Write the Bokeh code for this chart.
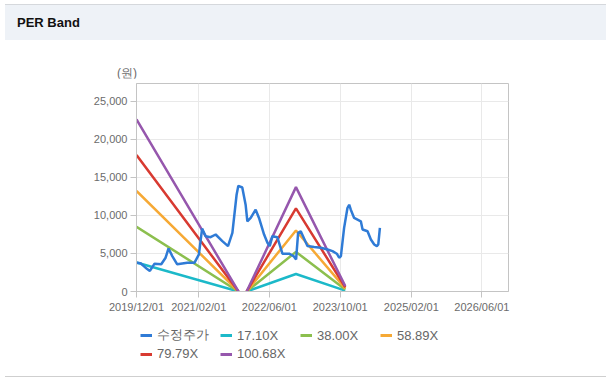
import numpy as np
import pandas as pd
from bokeh.plotting import figure
from bokeh.models import (Range1d, FixedTicker, DatetimeTickFormatter,
                          NumeralTickFormatter, Legend, LegendItem, Div)
from bokeh.layouts import column
from bokeh.embed import file_html
from bokeh.resources import INLINE

# ---------------- data ----------------
title_text = "PER Band"
unit_text = "(원)"

price_dates = ["2019-12-01","2019-12-29","2020-02-01","2020-03-02","2020-04-03","2020-05-19",
               "2020-06-18","2020-07-08","2020-08-03","2020-09-06","2020-11-14","2021-01-03",
               "2021-02-02","2021-02-24","2021-03-20","2021-04-23","2021-05-28","2021-07-13",
               "2021-08-21","2021-09-20","2021-10-19","2021-10-31","2021-11-27","2021-12-20",
               "2022-01-01","2022-01-24","2022-02-27","2022-03-22","2022-04-26","2022-05-19",
               "2022-06-04","2022-06-22","2022-07-26","2022-08-30","2022-10-15","2022-11-14",
               "2022-12-02","2022-12-16","2023-01-03","2023-02-18","2023-04-05","2023-05-21",
               "2023-07-06","2023-08-09","2023-09-08","2023-09-24","2023-10-06","2023-10-28",
               "2023-11-20","2023-12-02","2023-12-13","2024-01-05","2024-02-20","2024-03-03",
               "2024-04-06","2024-04-29","2024-05-22","2024-06-09","2024-06-19","2024-06-30"]
price = [3780,3700,3130,2700,3650,3570,4430,5650,4650,3570,3780,3780,4870,8260,7260,
         7130,7480,6610,5960,7700,12700,13870,13650,11390,9220,9650,10740,9650,7480,6390,
         5960,7260,7130,4960,4960,4650,4220,7700,7910,5960,5830,5740,5520,5300,4960,
         4430,4650,8350,10960,11390,10740,9650,9220,8130,7910,6830,6170,5960,6170,8350]

band_dates = ["2019-12-01","2021-11-01","2021-12-01","2021-12-27","2022-12-01","2023-11-05"]
band_names = ["17.10X","38.00X","58.89X","79.79X","100.68X"]
band_17 = [3800, 0, np.nan, 0, 2300, 120]
band_38 = [8500, 0, np.nan, 0, 5200, 270]
band_59 = [13200, 0, np.nan, 0, 8000, 410]
band_80 = [17900, 0, np.nan, 0, 10900, 560]
band_101 = [22600, 0, np.nan, 0, 13700, 700]

price_name = "수정주가"
x_tick_dates = ["2019-12-01","2021-02-01","2022-06-01","2023-10-01","2025-02-01","2026-06-01"]
y_ticks = [0, 5000, 10000, 15000, 20000, 25000]

# ---------------- styles ----------------
price_color = "#2f7bd6"
band_colors = ["#1cb9c9", "#8cbf4e", "#f6a935", "#d83a31", "#9657ad"]
axis_font = "Liberation Sans"
label_gray = "#6b6b6b"

# ---------------- layout ----------------
W = 606
header = Div(text=title_text, width=601, height=36, margin=(4, 0, 0, 5),
             styles={"background-color": "#eef2f7", "border-top": "1px solid #d5d8dc",
                     "font-family": "Liberation Sans", "font-weight": "bold",
                     "font-size": "13px", "color": "#111111", "padding-left": "12px",
                     "line-height": "35px", "box-sizing": "border-box", "width": "601px",
                     "height": "36px"})

unit_div = Div(text=unit_text, width=W, height=38, margin=(0, 0, 0, 0),
               styles={"font-family": "Liberation Sans", "font-size": "12px",
                       "color": label_gray, "padding-left": "117px", "padding-top": "26px",
                       "line-height": "14px", "box-sizing": "border-box",
                       "width": f"{W}px", "height": "38px"})

p = figure(width=W, height=237, x_axis_type="datetime", output_backend="svg",
           toolbar_location=None, min_border_left=136, min_border_right=98,
           min_border_top=5, min_border_bottom=24,
           x_range=Range1d(pd.Timestamp("2019-12-01"), pd.Timestamp("2026-12-01")),
           y_range=Range1d(0, 27300), margin=(0, 0, 0, 0))
p.outline_line_color = "#c4c4c4"
p.background_fill_color = "white"
p.border_fill_color = "white"

p.xaxis.ticker = FixedTicker(ticks=[pd.Timestamp(d).value / 1e6 for d in x_tick_dates])
p.xaxis.formatter = DatetimeTickFormatter(days="%Y/%m/%d", months="%Y/%m/%d",
                                          years="%Y/%m/%d", hours="%Y/%m/%d")
p.yaxis.ticker = FixedTicker(ticks=y_ticks)
p.yaxis.formatter = NumeralTickFormatter(format="0,0")
for ax in (p.xaxis, p.yaxis):
    ax.major_label_text_font = axis_font
    ax.major_label_text_font_size = "11px"
    ax.major_label_text_color = label_gray
    ax.axis_line_color = "#c4c4c4"
    ax.major_tick_line_color = "#c4c4c4"
    ax.major_tick_out = 6
    ax.major_tick_in = 0
    ax.minor_tick_line_color = None
    ax.major_label_standoff = 3
p.xgrid.grid_line_color = "#e9e9e9"
p.ygrid.grid_line_color = "#e9e9e9"

bx = pd.to_datetime(band_dates)
for vals, col in zip([band_17, band_38, band_59, band_80, band_101], band_colors):
    p.line(bx, vals, line_color=col, line_width=2.5)
p.line(pd.to_datetime(price_dates), price, line_color=price_color, line_width=2.5)

# ---------------- legend strip ----------------
lg = figure(width=W, height=61, output_backend="svg", toolbar_location=None,
            x_axis_type=None, y_axis_type=None, min_border=0,
            min_border_left=0, min_border_right=0, min_border_top=0, min_border_bottom=0,
            x_range=Range1d(0, 1), y_range=Range1d(0, 1), margin=(0, 0, 0, 0))
lg.outline_line_color = None
lg.xgrid.visible = False
lg.ygrid.visible = False

items = []
lr = lg.line(x=[np.nan], y=[np.nan], line_color=price_color, line_width=3)
items.append(LegendItem(label=price_name, renderers=[lr]))
for name, col in zip(band_names, band_colors):
    r = lg.line(x=[np.nan], y=[np.nan], line_color=col, line_width=3)
    items.append(LegendItem(label=name, renderers=[r]))

legend = Legend(items=items, ncols=4, orientation="horizontal", location=(4, 15),
                border_line_color=None, background_fill_alpha=0,
                label_text_font=axis_font, label_text_font_size="13px",
                label_text_color="#666666", glyph_width=12, glyph_height=12,
                label_height=12, label_width=61, label_standoff=5, spacing=2,
                padding=0, margin=0)
lg.add_layout(legend, "center")

footer = Div(text="", width=601, height=1, margin=(0, 0, 0, 5),
             styles={"background-color": "#cfcfcf", "height": "1px", "width": "601px"})

layout = column(header, unit_div, p, lg, footer, spacing=0)
open("out.html", "w").write(file_html(layout, INLINE))
